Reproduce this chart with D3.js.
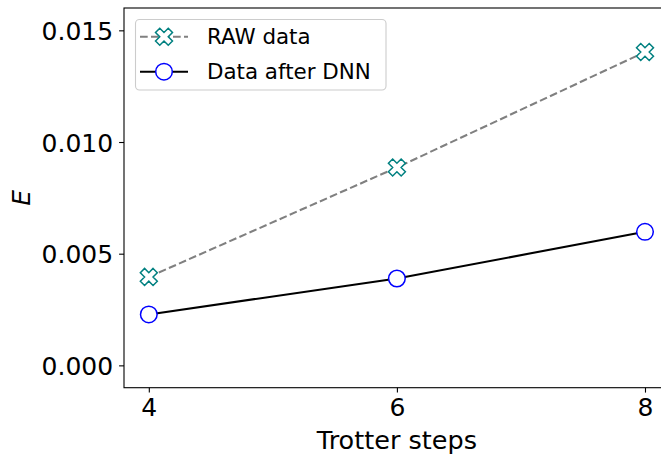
<!DOCTYPE html>
<html>
<head>
<meta charset="utf-8">
<script src="https://cdn.jsdelivr.net/npm/d3@7"></script>
<style>
  body { margin: 0; background: #fff; }
  svg { display: block; font-family: "DejaVu Sans", sans-serif; }
</style>
</head>
<body>
<svg width="661" height="456"></svg>
<script>
// chart data
const steps = [4, 6, 8],
    rawData = [0.00396, 0.00886, 0.01403],
    dnnData = [0.00228, 0.00389, 0.00598],
    xTicks = [4, 6, 8],
    yTicks = [0, 0.005, 0.010, 0.015];

const LEFT = 124,
    RIGHT = 669.8,
    TOP = 8,
    BOTTOM = 387.7,
    TICK_LEN = 4.9;

const svg = d3.select("svg");

const x = d3.scaleLinear().domain([3.8, 8.2]).range([LEFT, RIGHT]),
    y = d3.scaleLinear().domain([-0.001, 0.016]).range([BOTTOM, TOP]);

// axes
const xAxis = svg.append("g")
    .attr("transform", `translate(0,${BOTTOM})`)
    .call(d3.axisBottom(x).tickValues(xTicks).tickSize(TICK_LEN).tickPadding(5).tickFormat(d3.format("d")));
const yAxis = svg.append("g")
    .attr("transform", `translate(${LEFT},0)`)
    .call(d3.axisLeft(y).tickValues(yTicks).tickSize(TICK_LEN).tickPadding(6).tickFormat(d3.format(".3f")));

[xAxis, yAxis].forEach((a) => {
    a.select(".domain").remove();
    a.selectAll(".tick line").attr("stroke", "#000").attr("stroke-width", 1.1);
    a.selectAll(".tick text")
        .attr("fill", "#000")
        .style("font-size", "25px")
        .style("font-family", "DejaVu Sans");
});
xAxis.selectAll(".tick text").attr("dy", "0.75em");
yAxis.selectAll(".tick text").attr("dy", "0.36em");

// spines
svg.append("rect")
    .attr("x", LEFT)
    .attr("y", TOP)
    .attr("width", RIGHT - LEFT)
    .attr("height", BOTTOM - TOP)
    .attr("fill", "none")
    .attr("stroke", "#000")
    .attr("stroke-width", 1.1);

// labels
svg.append("text")
    .attr("x", (LEFT + RIGHT) / 2)
    .attr("y", 449)
    .attr("text-anchor", "middle")
    .style("font-size", "25.5px")
    .text("Trotter steps");

svg.append("text")
    .attr("transform", `translate(30,${(TOP + BOTTOM) / 2}) rotate(-90)`)
    .attr("text-anchor", "middle")
    .style("font-size", "25px")
    .style("font-style", "italic")
    .text("E");

// markers
const XS = 18;
const xPath = (() => {
    const pts = [[-1, -3], [1, -3], [1, -1], [3, -1], [3, 1], [1, 1], [1, 3], [-1, 3], [-1, 1], [-3, 1], [-3, -1], [-1, -1]];
    const c = Math.SQRT1_2;
    return "M" + pts.map(([px, py]) => {
        const sx = px / 6 * XS, sy = py / 6 * XS;
        return [(sx - sy) * c, (sx + sy) * c].map((v) => v.toFixed(2)).join(",");
    }).join("L") + "Z";
})();

const line = d3.line().x((d) => x(d[0])).y((d) => y(d[1]));
const rawPts = steps.map((s, i) => [s, rawData[i]]),
    dnnPts = steps.map((s, i) => [s, dnnData[i]]);

const drawRawMarker = (g, cx, cy) => g.append("path")
    .attr("d", xPath)
    .attr("transform", `translate(${cx},${cy})`)
    .attr("fill", "#fff")
    .attr("stroke", "#008080")
    .attr("stroke-width", 1.5);
const drawDnnMarker = (g, cx, cy) => g.append("circle")
    .attr("cx", cx)
    .attr("cy", cy)
    .attr("r", 8.3)
    .attr("fill", "#fff")
    .attr("stroke", "#0000ff")
    .attr("stroke-width", 1.5);

const plot = svg.append("g");
plot.append("path")
    .attr("d", line(rawPts))
    .attr("fill", "none")
    .attr("stroke", "#808080")
    .attr("stroke-width", 2.08)
    .attr("stroke-dasharray", "7.7,3.3");
plot.append("path")
    .attr("d", line(dnnPts))
    .attr("fill", "none")
    .attr("stroke", "#000")
    .attr("stroke-width", 2.08);
rawPts.forEach((d) => drawRawMarker(plot, x(d[0]), y(d[1])));
dnnPts.forEach((d) => drawDnnMarker(plot, x(d[0]), y(d[1])));

// legend
const legend = svg.append("g");
legend.append("rect")
    .attr("x", 135.5)
    .attr("y", 19.5)
    .attr("width", 250.5)
    .attr("height", 70.5)
    .attr("rx", 4)
    .attr("fill", "#fff")
    .attr("fill-opacity", 0.8)
    .attr("stroke", "#cccccc")
    .attr("stroke-width", 1.1);

const entries = [
    {label: "RAW data", cy: 36.7, dash: "7.7,3.3", color: "#808080", marker: drawRawMarker},
    {label: "Data after DNN", cy: 71.7, dash: null, color: "#000", marker: drawDnnMarker}
];
entries.forEach((e) => {
    legend.append("line")
        .attr("x1", 140)
        .attr("x2", 188)
        .attr("y1", e.cy)
        .attr("y2", e.cy)
        .attr("stroke", e.color)
        .attr("stroke-width", 2.08)
        .attr("stroke-dasharray", e.dash);
    e.marker(legend, 164, e.cy);
    legend.append("text")
        .attr("x", 207)
        .attr("y", e.cy)
        .attr("dy", "0.36em")
        .style("font-size", "21.4px")
        .text(e.label);
});
</script>
</body>
</html>
